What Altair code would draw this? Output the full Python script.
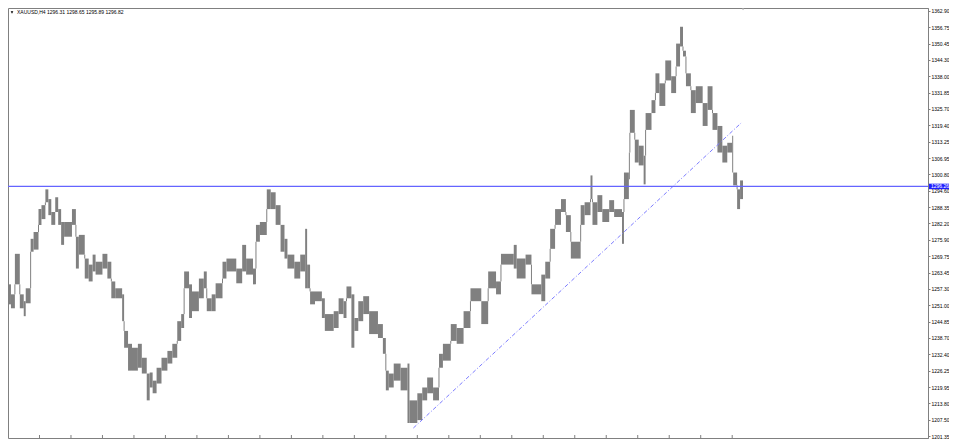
import altair as alt
import pandas as pd

symbol_title = "XAUUSD,H4  1296.31 1298.65 1295.89 1296.82"

# bar-group start positions (bar index), last group ends at last_bar_end
bar_start = [1, 4, 8, 13, 17, 19, 24, 27, 32, 35, 39, 42, 45, 49, 52, 55, 58, 66, 70, 73,
             79, 83, 87, 90, 97, 102, 106, 110, 117, 119, 123, 127, 133, 137, 142, 145, 148, 152, 157, 163,
             168, 173, 177, 180, 185, 188, 195, 200, 203, 208, 212, 219, 223, 233, 239, 243, 250, 253, 257, 264,
             268, 273, 278, 282, 285, 292, 298, 303, 305, 308, 313, 320, 323, 332, 337, 342, 345, 350, 353, 357,
             362, 368, 377, 382, 385, 388, 393, 400, 407, 409, 417, 422, 427, 433, 439, 443, 451, 457, 464, 471,
             482, 489, 497, 502, 515, 518, 527, 533, 543, 547, 552, 557, 563, 568, 573, 583, 587, 593, 595, 600,
             605, 612, 617, 625, 627, 632, 633, 638, 642, 647, 649, 655, 659, 663, 669, 675, 680, 684, 687, 690,
             695, 700, 707, 712, 717, 722, 727, 732, 737, 738, 742, 745]
last_bar_end = 748

bar_high = [1259.0, 1255.2, 1270.6, 1255.2, 1252.6, 1257.5, 1276.3, 1278.9, 1287.6, 1289.1,
            1295.1, 1291.4, 1286.5, 1292.1, 1287.6, 1282.7, 1282.7, 1287.6, 1277.1, 1277.8,
            1268.8, 1266.5, 1270.3, 1267.6, 1270.6, 1267.6, 1260.1, 1257.5, 1255.2, 1241.3,
            1236.4, 1234.9, 1236.4, 1231.1, 1225.1, 1225.5, 1222.4, 1227.3, 1231.1, 1233.7,
            1236.4, 1245.0, 1247.7, 1263.9, 1259.0, 1256.3, 1261.2, 1263.9, 1253.7, 1255.2,
            1259.4, 1267.6, 1268.8, 1265.0, 1274.0, 1268.8, 1265.0, 1281.6, 1282.7, 1295.1,
            1294.0, 1289.1, 1281.6, 1276.3, 1270.3, 1267.6, 1270.3, 1280.1, 1266.5, 1256.3,
            1256.3, 1253.7, 1247.7, 1248.8, 1253.7, 1252.6, 1258.2, 1255.2, 1246.2, 1252.6,
            1254.5, 1248.8, 1243.9, 1238.6, 1226.2, 1225.1, 1228.9, 1227.3, 1228.9, 1214.9,
            1217.6, 1219.8, 1223.6, 1219.8, 1232.6, 1236.4, 1243.9, 1242.4, 1248.8, 1257.5,
            1252.6, 1263.9, 1260.1, 1270.6, 1274.0, 1268.8, 1270.3, 1259.0, 1262.7, 1267.6,
            1280.1, 1287.6, 1291.4, 1285.3, 1275.2, 1289.1, 1290.2, 1300.4, 1290.2, 1292.9,
            1287.6, 1291.0, 1287.6, 1286.5, 1301.5, 1309.1, 1325.3, 1314.0, 1311.7, 1307.9,
            1324.1, 1329.0, 1339.2, 1335.4, 1344.1, 1338.1, 1350.5, 1356.9, 1347.8, 1339.2,
            1332.8, 1334.3, 1327.9, 1334.3, 1324.1, 1319.2, 1311.7, 1312.8, 1315.5, 1301.5,
            1295.1, 1298.5]

bar_low = [1251.4, 1249.9, 1259.0, 1249.9, 1246.9, 1251.8, 1271.4, 1272.2, 1281.6, 1283.8,
           1290.2, 1285.3, 1281.6, 1286.5, 1281.6, 1274.0, 1277.1, 1281.6, 1265.0, 1270.3,
           1261.2, 1260.1, 1263.9, 1262.7, 1265.0, 1261.2, 1253.7, 1253.7, 1245.0, 1234.9,
           1226.2, 1226.2, 1227.3, 1225.1, 1214.9, 1219.8, 1217.6, 1221.3, 1226.2, 1228.9,
           1231.1, 1237.5, 1242.4, 1257.5, 1246.2, 1248.8, 1253.7, 1257.5, 1248.8, 1248.8,
           1253.7, 1261.2, 1263.9, 1259.4, 1263.9, 1262.7, 1259.0, 1275.2, 1277.8, 1287.6,
           1287.6, 1281.6, 1271.4, 1268.8, 1265.0, 1261.2, 1263.9, 1257.5, 1257.5, 1251.4,
           1252.6, 1246.2, 1241.3, 1242.4, 1247.7, 1246.2, 1253.7, 1234.9, 1241.3, 1245.0,
           1247.7, 1240.1, 1238.6, 1232.6, 1218.7, 1219.8, 1222.4, 1218.7, 1206.3, 1206.3,
           1207.4, 1214.9, 1217.6, 1214.9, 1227.3, 1230.0, 1237.5, 1236.4, 1242.4, 1252.6,
           1243.9, 1257.5, 1255.2, 1266.5, 1265.0, 1261.2, 1266.5, 1255.2, 1252.6, 1261.2,
           1272.5, 1281.6, 1286.5, 1278.9, 1268.8, 1281.6, 1285.3, 1291.4, 1281.6, 1286.5,
           1282.7, 1286.5, 1284.6, 1274.4, 1291.4, 1298.9, 1316.6, 1305.3, 1304.2, 1297.0,
           1317.7, 1324.1, 1331.7, 1326.8, 1336.5, 1331.7, 1341.8, 1349.4, 1345.6, 1334.3,
           1324.1, 1327.9, 1319.2, 1325.3, 1317.7, 1309.1, 1305.3, 1309.1, 1301.5, 1296.6,
           1287.6, 1291.4]

price_ticks = [1362.90, 1356.75, 1350.45, 1344.30, 1338.00, 1331.85, 1325.70, 1319.40, 1313.25,
               1306.95, 1300.80, 1294.60, 1288.35, 1282.20, 1275.90, 1269.75, 1263.45, 1257.30,
               1251.00, 1244.85, 1238.70, 1232.40, 1226.25, 1219.95, 1213.80, 1207.50, 1201.35]

time_ticks = [33, 65, 97, 129, 161, 193, 225, 257, 289, 321, 353, 385, 417, 449, 481, 513,
              545, 577, 609, 641, 673, 705, 737]

bid_price = 1296.26
trend_t = [413, 746]
trend_p = [1204.4, 1320.3]
chart_shift_t = 748

GRAY = "#808080"
FONT = "Liberation Sans"
PLOT_W = 920
PLOT_H = 430

bars = pd.DataFrame({
    "t0": bar_start,
    "t1": bar_start[1:] + [last_bar_end],
    "hi": bar_high,
    "lo": bar_low,
})

# connectors between consecutive groups where their ranges do not overlap
conn_rows = []
for i in range(1, len(bars)):
    top = max(bar_low[i - 1], bar_low[i])
    bot = min(bar_high[i - 1], bar_high[i])
    if bot < top:
        conn_rows.append({"t": bar_start[i], "a": bot, "b": top})
conns = pd.DataFrame(conn_rows)

xscale = alt.Scale(domain=[1, 936], nice=False, zero=False)
yscale = alt.Scale(domain=[1200.60, 1364.03], nice=False, zero=False)
yaxis = alt.Axis(orient="right", values=price_ticks, format=".2f", grid=False,
                 domainColor=GRAY, tickColor=GRAY, tickSize=2, labelPadding=1,
                 labelFont=FONT, labelFontSize=5, labelColor="#000000",
                 labelOverlap=False, labelFlush=False, title=None)


def Y(field):
    return alt.Y(field, type="quantitative", scale=yscale, axis=yaxis, title=None)


def X(field):
    return alt.X(field, type="quantitative", scale=xscale, axis=None, title=None)


bar_layer = alt.Chart(bars).mark_rect(color=GRAY).encode(
    x=X("t0"), x2="t1", y=Y("hi"), y2="lo"
)

conn_layer = alt.Chart(conns).mark_rule(color=GRAY, strokeWidth=1).encode(
    x=X("t"), y=Y("a"), y2="b"
)

bid_df = pd.DataFrame({"p": [bid_price], "top": [bid_price + 1.0], "bot": [bid_price - 1.1],
                       "label": [f"{bid_price:.2f}"]})

bid_line = alt.Chart(bid_df).mark_rule(color="#6464ff", strokeWidth=1.3).encode(y=Y("p"))

bid_box = alt.Chart(bid_df).mark_rect(color="#1f1fff").encode(
    x=alt.value(PLOT_W + 1), x2=alt.value(PLOT_W + 21), y=Y("top"), y2="bot"
)
bid_text = alt.Chart(bid_df).mark_text(font=FONT, fontSize=5, color="white", align="left",
                                       baseline="middle").encode(
    x=alt.value(PLOT_W + 3), y=Y("p"), text="label:N"
)

trend_df = pd.DataFrame({"t": trend_t, "p": trend_p})
trend = alt.Chart(trend_df).mark_line(color="#7c7cff", strokeWidth=1,
                                      strokeDash=[4, 2, 1, 2]).encode(
    x=X("t"), y=Y("p")
)

tick_df = pd.DataFrame({"t": time_ticks})
ticks = alt.Chart(tick_df).mark_rule(color=GRAY, strokeWidth=1).encode(
    x=X("t"), y=alt.value(PLOT_H - 3), y2=alt.value(PLOT_H)
)

title_df = pd.DataFrame({"txt": [symbol_title]})
title = alt.Chart(title_df).mark_text(font=FONT, fontSize=5, color="#000000", align="left",
                                      baseline="middle").encode(
    x=alt.value(9), y=alt.value(4), text="txt:N"
)
arrow = alt.Chart(title_df).mark_point(shape="triangle-down", filled=True, color="#000000",
                                       size=7, opacity=1).encode(
    x=alt.value(4), y=alt.value(4.5)
)

shift_df = pd.DataFrame({"t": [chart_shift_t]})
shift_mark = alt.Chart(shift_df).mark_point(shape="triangle-down", filled=True, color="#a0a0a0",
                                            size=8, opacity=1).encode(
    x=X("t"), y=alt.value(1)
)

chart = alt.layer(
    bar_layer, conn_layer, trend, bid_line, ticks, bid_box, bid_text, title, arrow, shift_mark
).properties(
    width=PLOT_W, height=PLOT_H,
    autosize=alt.AutoSizeParams(type="none"),
    padding={"left": 0, "top": 0, "right": 21, "bottom": 2},
    background="white",
).configure_view(stroke=GRAY, strokeWidth=1)

chart.save("out.html", embed_options={"renderer": "svg", "actions": False})
